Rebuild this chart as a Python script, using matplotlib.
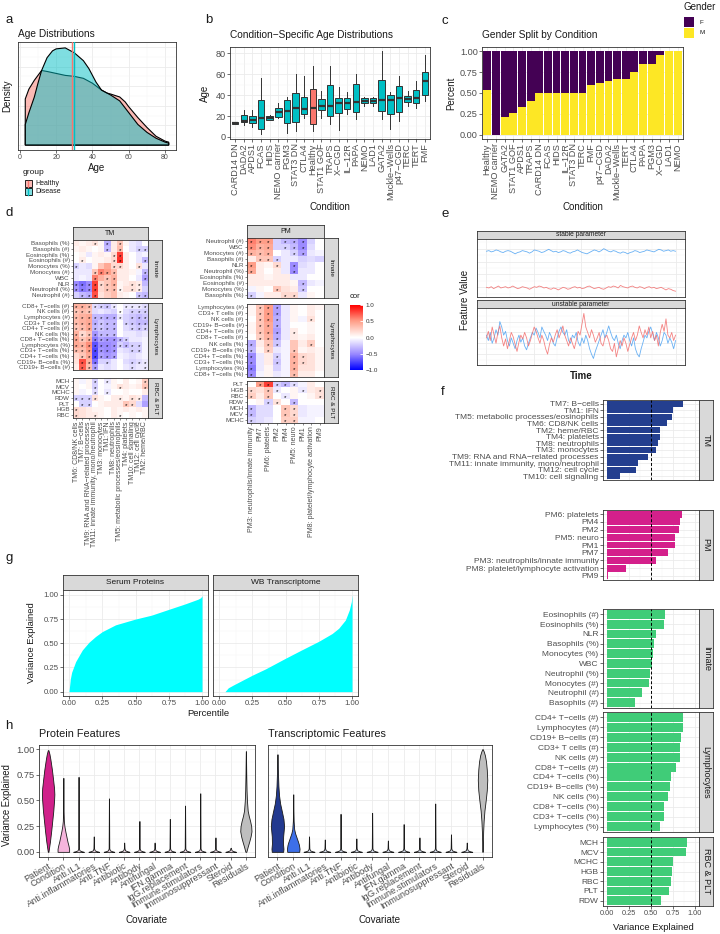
import numpy as np
import matplotlib
matplotlib.use('Agg')
import matplotlib.pyplot as plt
from matplotlib.colors import LinearSegmentedColormap, Normalize, to_rgba
from matplotlib.patches import Rectangle
import matplotlib.colorbar as mcolorbar

plt.rcParams['font.family'] = ['Liberation Sans', 'DejaVu Sans']

# ======================= DATA =======================
# --- a: age densities (relative density)
a_age_h = [3, 5, 8, 12, 15, 20, 25, 30, 35, 40, 45, 48, 50, 55, 58, 60, 65, 70, 75, 80, 82]
a_den_h = [47, 57, 66, 76, 75, 73, 71, 70, 68, 63, 56, 53, 52, 49, 44, 39, 28, 18, 9, 4, 3]
a_age_d = [3, 5, 8, 10, 12, 15, 18, 20, 25, 30, 35, 38, 40, 42, 45, 48, 50, 55, 60, 65, 70, 75, 80, 82]
a_den_d = [21, 33, 49, 63, 76, 89, 96, 98, 99, 94, 86, 78, 71, 64, 56, 53, 51, 45, 33, 21, 13, 7, 3, 2]
a_mean_h = 28.5
a_mean_d = 29.6

# --- b: condition-specific age boxplots
b_cond = ['CARD14 DN', 'DADA2', 'APDS1', 'FCAS', 'HIDS', 'NEMO carrier', 'PGM3', 'STAT3 DN', 'CTLA4',
          'Healthy', 'STAT1 GOF', 'TRAPS', 'X−CGD', 'IL−12R', 'PAPA', 'NEMO', 'LAD1', 'GATA2',
          'Muckle−Wells', 'p47−CGD', 'TERC', 'TERT', 'FMF']
b_lo = [12, 11, 9, 3, 16, 18, 4, 6, 18, 6, 18, 12, 7, 22, 17, 30, 30, 17, 8, 15, 30, 28, 34]
b_q1 = [12.5, 14, 13, 8, 16, 19, 13, 14, 22, 12, 26, 20, 23, 27, 24, 32, 32, 25, 22, 24, 33, 32, 40]
b_med = [13, 15, 16, 18, 18, 24, 25, 28, 27, 28, 30, 30, 32, 32, 33, 34, 34, 35, 35, 37, 36, 37, 53]
b_q3 = [14, 21, 20, 35, 20, 28, 35, 42, 38, 46, 36, 50, 37, 37, 51, 37, 37, 54, 40, 49, 39, 45, 62]
b_hi = [14, 26, 26, 56, 21, 32, 38, 60, 58, 68, 44, 68, 48, 43, 60, 38, 38, 82, 43, 58, 44, 53, 78]

# --- c: gender split
c_cond = ['Healthy', 'NEMO carrier', 'GATA2', 'STAT1 GOF', 'APDS1', 'TRAPS', 'CARD14 DN', 'FCAS', 'HIDS',
          'IL−12R', 'STAT3 DN', 'TERC', 'FMF', 'p47−CGD', 'DADA2', 'Muckle−Wells', 'TERT', 'CTLA4',
          'PAPA', 'PGM3', 'X−CGD', 'LAD1', 'NEMO']
c_male = [0.53, 0.0, 0.21, 0.26, 0.33, 0.40, 0.50, 0.50, 0.50, 0.50, 0.50, 0.50, 0.60, 0.62, 0.64,
          0.67, 0.67, 0.75, 0.85, 0.85, 0.96, 1.0, 1.0]

# --- d: correlation heatmaps
d_tm_cols = ['TM6: CD8/NK cells', 'TM7: B−cells', 'TM9: RNA and RNA−related processes',
             'TM11: innate immunity, mono/neutrophil', 'TM3: monocytes', 'TM1: IFN', 'TM8: neutrophils',
             'TM5: metabolic processes/eosinophils', 'TM4: platelets', 'TM10: cell signaling',
             'TM12: cell cycle', 'TM2: heme/RBC']
d_pm_cols = ['PM3: neutrophils/innate immunity', 'PM7', 'PM6: platelets', 'PM2', 'PM4', 'PM5: neuro',
             'PM1', 'PM8: platelet/lymphocyte activation', 'PM9']

d_tm_innate_rows = ['Basophils (%)', 'Basophils (#)', 'Eosinophils (%)', 'Eosinophils (#)', 'Monocytes (%)',
                    'Monocytes (#)', 'WBC', 'NLR', 'Neutrophil (%)', 'Neutrophil (#)']
d_tm_innate_vals = [
    [0.1, 0.05, 0.1, 0.15, 0.05, -0.35, 0.1, 0.3, 0.05, -0.1, -0.15, 0.0],
    [0.05, 0.1, 0.05, 0.0, 0.05, -0.3, 0.1, 0.35, 0.0, -0.1, -0.2, -0.2],
    [0.0, 0.05, -0.1, 0.05, 0.1, 0.05, 0.2, 0.8, 0.1, 0.0, -0.1, -0.05],
    [0.0, 0.1, 0.0, 0.05, 0.05, 0.1, 0.2, 0.85, 0.1, 0.0, -0.1, -0.3],
    [-0.2, -0.1, -0.15, 0.05, 0.3, 0.45, 0.2, 0.2, 0.1, 0.0, 0.15, -0.1],
    [-0.1, -0.1, -0.1, 0.3, 0.6, 0.5, 0.35, 0.1, 0.1, 0.05, -0.05, -0.3],
    [-0.1, -0.05, -0.1, 0.6, 0.4, 0.3, 0.4, 0.1, 0.1, 0.0, -0.1, -0.4],
    [-0.5, -0.6, -0.5, 0.8, 0.2, 0.3, 0.4, 0.05, 0.1, 0.15, 0.1, -0.3],
    [-0.45, -0.55, -0.5, 0.8, 0.2, 0.3, 0.35, 0.05, 0.15, 0.15, 0.1, -0.2],
    [-0.2, -0.3, -0.35, 0.75, 0.15, 0.25, 0.35, 0.1, 0.05, 0.0, -0.25, -0.3]]
d_tm_innate_star = ['000101010000', '000001010011', '000000110000', '010000110001', '100000110010',
                    '000111100001', '000101100001', '111111100110', '111101110110', '011100000011']

d_tm_lymph_rows = ['CD8+ T−cells (#)', 'NK cells (#)', 'Lymphocytes (#)', 'CD3+ T cells (#)', 'CD4+ T−cells (#)',
                   'NK cells (%)', 'CD8+ T−cells (%)', 'Lymphocytes (%)', 'CD3+ T−cells (%)', 'CD4+ T−cells (%)',
                   'CD19+ B−cells (%)', 'CD19+ B−cells (#)']
d_tm_lymph_vals = [
    [0.4, 0.4, 0.35, -0.15, -0.2, -0.25, -0.1, 0.0, -0.1, -0.1, -0.1, -0.15],
    [0.3, 0.35, 0.3, -0.15, -0.1, -0.15, -0.2, 0.0, -0.15, -0.2, -0.2, -0.2],
    [0.35, 0.4, 0.45, -0.3, -0.3, -0.35, -0.35, -0.1, -0.2, -0.25, -0.3, -0.25],
    [0.35, 0.4, 0.45, -0.35, -0.25, -0.3, -0.3, 0.0, -0.2, -0.25, -0.3, -0.3],
    [0.3, 0.35, 0.45, -0.3, -0.25, -0.3, -0.3, 0.0, -0.15, -0.2, -0.25, -0.2],
    [0.4, 0.2, 0.3, -0.45, -0.3, -0.3, -0.3, 0.0, -0.1, -0.1, -0.15, -0.1],
    [0.45, 0.3, 0.4, -0.55, -0.4, -0.45, -0.45, -0.3, -0.2, -0.1, -0.1, -0.05],
    [0.45, 0.4, 0.55, -0.7, -0.5, -0.5, -0.45, -0.2, -0.3, -0.2, -0.2, -0.05],
    [0.35, 0.35, 0.5, -0.75, -0.45, -0.5, -0.45, -0.1, -0.15, -0.2, -0.2, -0.05],
    [0.2, 0.3, 0.45, -0.75, -0.4, -0.45, -0.4, -0.05, -0.1, -0.15, -0.1, -0.05],
    [0.15, 0.75, 0.4, -0.6, -0.2, -0.2, -0.1, 0.0, -0.15, -0.2, -0.15, -0.1],
    [0.1, 0.7, 0.35, -0.4, -0.1, -0.15, -0.1, 0.0, -0.1, -0.15, -0.1, -0.1]]
d_tm_lymph_star = ['111111101111', '111000010111', '111111110111', '111111101111', '111111100111',
                   '111111100000', '111111111000', '111111111110', '111111100110', '011111100000',
                   '011101000111', '011100000101']

d_tm_rbc_rows = ['MCH', 'MCV', 'MCHC', 'RDW', 'PLT', 'HGB', 'RBC']
d_tm_rbc_vals = [
    [0.05, -0.05, 0.05, -0.2, 0.0, -0.1, 0.05, 0.0, 0.1, 0.0, 0.05, 0.25],
    [0.05, 0.0, 0.05, -0.2, 0.0, -0.05, 0.05, 0.15, 0.1, 0.05, 0.1, 0.3],
    [0.05, -0.05, 0.0, -0.15, 0.0, -0.1, 0.0, 0.0, 0.05, 0.0, 0.0, 0.1],
    [-0.2, -0.2, -0.2, 0.15, 0.05, 0.0, 0.1, 0.1, 0.05, 0.15, 0.1, -0.3],
    [0.0, -0.2, -0.2, 0.0, 0.05, 0.1, 0.1, 0.1, 0.3, 0.2, -0.15, -0.4],
    [0.2, 0.15, 0.1, 0.05, 0.05, 0.0, 0.1, 0.05, 0.1, 0.05, 0.1, 0.05],
    [0.2, 0.15, 0.1, 0.1, 0.05, 0.0, 0.1, 0.05, 0.0, 0.05, 0.0, 0.05]]
d_tm_rbc_star = ['000101000001', '000100010001', '000101000000', '111100010110', '011000001100',
                 '100000000000', '100100010000']

d_pm_innate_rows = ['Neutrophil (#)', 'WBC', 'Monocytes (#)', 'Basophils (#)', 'NLR', 'Neutrophil (%)',
                    'Eosinophils (%)', 'Eosinophils (#)', 'Monocytes (%)', 'Basophils (%)']
d_pm_innate_vals = [
    [0.6, 0.5, 0.5, -0.2, -0.3, -0.35, -0.5, -0.2, 0.0],
    [0.55, 0.4, 0.45, -0.2, -0.2, -0.3, -0.5, -0.15, 0.0],
    [0.4, 0.35, 0.4, 0.0, -0.1, -0.2, -0.4, -0.1, -0.05],
    [0.1, 0.3, 0.3, -0.2, -0.1, -0.1, -0.2, -0.15, -0.2],
    [0.5, 0.1, 0.05, 0.2, -0.1, -0.5, -0.15, -0.1, 0.0],
    [0.45, 0.1, 0.0, 0.1, -0.1, -0.5, -0.1, -0.1, 0.0],
    [0.1, 0.1, 0.05, 0.1, 0.1, -0.1, -0.1, 0.0, 0.0],
    [0.1, 0.1, 0.1, 0.1, 0.1, 0.05, -0.3, -0.1, -0.05],
    [-0.05, 0.05, 0.0, 0.3, 0.15, 0.1, -0.25, 0.0, 0.0],
    [-0.2, -0.05, 0.1, 0.1, 0.2, 0.2, -0.1, 0.05, 0.0]]
d_pm_innate_star = ['111011100', '111011100', '111001100', '011100000', '100101000', '100001000',
                    '000000000', '000000100', '000100100', '100011000']

d_pm_lymph_rows = ['Lymphocytes (#)', 'CD3+ T cells (#)', 'NK cells (#)', 'CD19+ B−cells (#)', 'CD4+ T−cells (#)',
                   'CD8+ T−cells (#)', 'NK cells (%)', 'CD19+ B−cells (%)', 'CD4+ T−cells (%)', 'CD3+ T−cells (%)',
                   'Lymphocytes (%)', 'CD8+ T−cells (%)']
d_pm_lymph_vals = [
    [0.05, 0.3, 0.5, -0.4, -0.1, 0.05, 0.0, 0.1, 0.05],
    [0.05, 0.3, 0.5, -0.4, -0.1, 0.05, 0.0, 0.1, 0.0],
    [0.0, 0.3, 0.5, -0.35, -0.1, 0.05, -0.05, 0.15, 0.0],
    [0.05, 0.3, 0.45, -0.35, -0.1, 0.0, 0.0, 0.05, 0.0],
    [0.05, 0.3, 0.45, -0.4, -0.1, 0.1, 0.0, 0.05, 0.0],
    [0.0, 0.25, 0.4, -0.35, -0.1, 0.1, 0.05, 0.1, 0.0],
    [-0.35, 0.1, 0.3, -0.25, -0.05, 0.3, 0.1, 0.25, 0.0],
    [-0.3, 0.05, 0.25, -0.1, -0.05, 0.3, 0.05, 0.1, 0.05],
    [-0.5, -0.1, 0.1, -0.2, -0.05, 0.4, 0.2, 0.15, 0.05],
    [-0.5, -0.1, 0.1, -0.25, -0.05, 0.4, 0.2, 0.15, 0.05],
    [-0.55, -0.1, 0.05, -0.2, -0.05, 0.4, 0.15, 0.15, 0.05],
    [-0.5, -0.05, 0.05, -0.1, -0.05, 0.35, 0.1, 0.1, 0.0]]
d_pm_lymph_star = ['011100000', '011100000', '011100010', '011100000', '011101000', '011100000',
                   '101100010', '101001000', '100101100', '100101100', '100001000', '100001000']

d_pm_rbc_rows = ['PLT', 'HGB', 'RBC', 'RDW', 'MCH', 'MCV', 'MCHC']
d_pm_rbc_vals = [
    [0.0, 0.5, 0.8, -0.2, -0.3, -0.15, -0.05, 0.1, 0.0],
    [0.2, 0.15, 0.3, -0.1, 0.0, 0.05, -0.1, 0.1, 0.15],
    [0.25, 0.1, 0.3, 0.0, -0.1, 0.05, 0.0, 0.05, 0.15],
    [0.0, 0.05, -0.2, 0.15, 0.0, -0.3, 0.0, 0.0, 0.0],
    [-0.3, -0.15, -0.15, 0.0, 0.3, 0.2, -0.1, -0.05, -0.05],
    [-0.3, -0.15, -0.15, 0.0, 0.3, 0.2, -0.1, -0.05, -0.05],
    [-0.2, -0.15, -0.1, 0.0, 0.25, 0.25, -0.05, -0.05, 0.0]]
d_pm_rbc_star = ['011111000', '101100101', '101010001', '001101000', '100011000', '100011000', '100011000']

d_cbar_ticks = [1.0, 0.5, 0.0, -0.5, -1.0]

# --- e: feature time series
e_stable_blue = [0.76, 0.77, 0.75, 0.76, 0.78, 0.77, 0.75, 0.74, 0.76, 0.77, 0.76, 0.74, 0.72, 0.74, 0.75, 0.77,
                 0.76, 0.75, 0.73, 0.75, 0.78, 0.77, 0.76, 0.74, 0.75, 0.77, 0.79, 0.77, 0.75, 0.76, 0.74, 0.75,
                 0.77, 0.76, 0.74, 0.73, 0.75, 0.76, 0.78, 0.76, 0.74, 0.73, 0.72, 0.74, 0.76, 0.78, 0.77, 0.75,
                 0.77, 0.80, 0.78, 0.76, 0.75, 0.77, 0.76, 0.74, 0.73, 0.75, 0.74, 0.72, 0.74, 0.75, 0.77, 0.76,
                 0.74, 0.75, 0.76, 0.78, 0.77, 0.76, 0.75, 0.77, 0.79, 0.78, 0.76, 0.77, 0.78, 0.76, 0.77, 0.76]
e_stable_red = [0.20, 0.19, 0.21, 0.18, 0.20, 0.22, 0.19, 0.20, 0.21, 0.19, 0.20, 0.22, 0.20, 0.18, 0.19, 0.21,
                0.20, 0.19, 0.17, 0.19, 0.21, 0.20, 0.22, 0.21, 0.19, 0.20, 0.18, 0.17, 0.19, 0.18, 0.16, 0.18,
                0.20, 0.19, 0.17, 0.18, 0.20, 0.21, 0.19, 0.20, 0.18, 0.19, 0.21, 0.22, 0.20, 0.18, 0.19, 0.20,
                0.18, 0.17, 0.19, 0.21, 0.20, 0.22, 0.21, 0.19, 0.23, 0.21, 0.20, 0.19, 0.21, 0.22, 0.20, 0.19,
                0.21, 0.20, 0.18, 0.20, 0.21, 0.19, 0.20, 0.18, 0.19, 0.20, 0.18, 0.16, 0.18, 0.17, 0.15, 0.14]
e_unstable_red = [0.50, 0.62, 0.45, 0.70, 0.55, 0.40, 0.60, 0.72, 0.50, 0.35, 0.48, 0.30, 0.45, 0.60, 0.52, 0.38,
                  0.25, 0.42, 0.55, 0.48, 0.60, 0.50, 0.35, 0.45, 0.58, 0.70, 0.62, 0.50, 0.40, 0.55, 0.45, 0.30,
                  0.20, 0.38, 0.50, 0.42, 0.55, 0.65, 0.50, 0.60, 0.72, 0.55, 0.45, 0.35, 0.50, 0.40, 0.30, 0.45,
                  0.62, 0.55, 0.75, 0.95, 0.70, 0.60, 0.50, 0.65, 0.55, 0.42, 0.50, 0.60, 0.40, 0.35, 0.50, 0.55,
                  0.45, 0.30, 0.25, 0.40, 0.15, 0.30, 0.45, 0.35, 0.50, 0.40, 0.25, 0.38, 0.50, 0.60, 0.45, 0.55,
                  0.72, 0.60, 0.50, 0.65, 0.55, 0.70, 0.50, 0.62, 0.45, 0.55, 0.35, 0.60, 0.75, 0.62, 0.85, 0.55,
                  0.50, 0.60, 0.45, 0.55]
e_unstable_blue = [0.55, 0.45, 0.60, 0.40, 0.50, 0.65, 0.55, 0.80, 0.70, 0.55, 0.62, 0.45, 0.35, 0.50, 0.40, 0.30,
                   0.45, 0.55, 0.42, 0.50, 0.35, 0.28, 0.40, 0.50, 0.60, 0.55, 0.68, 0.60, 0.50, 0.70, 0.62, 0.55,
                   0.45, 0.60, 0.52, 0.40, 0.35, 0.50, 0.62, 0.70, 0.60, 0.55, 0.65, 0.45, 0.40, 0.55, 0.50, 0.60,
                   0.42, 0.35, 0.50, 0.40, 0.55, 0.45, 0.30, 0.20, 0.12, 0.25, 0.35, 0.45, 0.55, 0.65, 0.50, 0.60,
                   0.72, 0.60, 0.50, 0.45, 0.55, 0.40, 0.30, 0.45, 0.55, 0.50, 0.60, 0.45, 0.35, 0.50, 0.30, 0.20,
                   0.15, 0.30, 0.42, 0.55, 0.50, 0.62, 0.70, 0.58, 0.45, 0.60, 0.50, 0.35, 0.45, 0.60, 0.55, 0.40,
                   0.50, 0.42, 0.30, 0.45]

# --- f: variance explained bars
f_tm_names = ['TM7: B−cells', 'TM1: IFN', 'TM5: metabolic processes/eosinophils', 'TM6: CD8/NK cells',
              'TM2: heme/RBC', 'TM4: platelets', 'TM8: neutrophils', 'TM3: monocytes',
              'TM9: RNA and RNA−related processes', 'TM11: innate immunity, mono/neutrophil',
              'TM12: cell cycle', 'TM10: cell signaling']
f_tm_vals = [0.865, 0.75, 0.74, 0.68, 0.61, 0.61, 0.585, 0.555, 0.47, 0.355, 0.33, 0.155]
f_pm_names = ['PM6: platelets', 'PM4', 'PM2', 'PM5: neuro', 'PM1', 'PM7', 'PM3: neutrophils/innate immunity',
              'PM8: platelet/lymphocyte activation', 'PM9']
f_pm_vals = [0.855, 0.835, 0.82, 0.77, 0.77, 0.69, 0.56, 0.22, 0.02]
f_innate_names = ['Eosinophils (#)', 'Eosinophils (%)', 'NLR', 'Basophils (%)', 'Monocytes (%)', 'WBC',
                  'Neutrophil (%)', 'Monocytes (#)', 'Neutrophil (#)', 'Basophils (#)']
f_innate_vals = [0.665, 0.65, 0.56, 0.535, 0.52, 0.51, 0.49, 0.475, 0.40, 0.325]
f_lymph_names = ['CD4+ T−cells (#)', 'Lymphocytes (#)', 'CD19+ B−cells (#)', 'CD3+ T cells (#)', 'NK cells (#)',
                 'CD8+ T−cells (#)', 'CD4+ T−cells (%)', 'CD19+ B−cells (%)', 'NK cells (%)', 'CD8+ T−cells (%)',
                 'CD3+ T−cells (%)', 'Lymphocytes (%)']
f_lymph_vals = [0.87, 0.86, 0.845, 0.835, 0.83, 0.79, 0.73, 0.72, 0.70, 0.65, 0.65, 0.61]
f_rbc_names = ['MCH', 'MCV', 'MCHC', 'HGB', 'RBC', 'PLT', 'RDW']
f_rbc_vals = [0.905, 0.90, 0.755, 0.74, 0.73, 0.71, 0.62]
f_threshold = 0.5

# --- g: variance explained by percentile
g_pct_serum = [0.0, 0.01, 0.02, 0.05, 0.1, 0.15, 0.2, 0.25, 0.35, 0.5, 0.62, 0.75, 0.87, 0.97, 0.99, 1.0]
g_var_serum = [0.0, 0.13, 0.2, 0.31, 0.43, 0.51, 0.57, 0.62, 0.69, 0.75, 0.79, 0.85, 0.905, 0.955, 0.97, 0.99]
g_pct_wb = [0.045, 0.07, 0.11, 0.18, 0.25, 0.35, 0.5, 0.62, 0.75, 0.85, 0.9, 0.95, 0.98, 0.995, 1.0]
g_var_wb = [0.0, 0.04, 0.07, 0.12, 0.17, 0.235, 0.345, 0.43, 0.52, 0.6, 0.655, 0.74, 0.845, 0.93, 1.0]

# --- h: violin profiles (value, half-width)
h_covariates = ['Patient', 'Condition', 'Anti.IL1', 'Anti.inflammatories', 'Anti.TNF', 'Antibiotic', 'Antibody',
                'Antifungal', 'IFN.gamma', 'IgG.replacement', 'Immune.stimulators', 'Immunosuppressant',
                'Steroid', 'Residuals']
h_prot_max = [0.99, 0.72, 0.73, 0.15, 0.52, 0.09, 0.30, 0.09, 0.32, 0.45, 0.57, 0.14, 0.04, 0.98]
h_trans_max = [0.95, 0.56, 0.15, 0.12, 0.37, 0.13, 0.38, 0.11, 0.27, 0.14, 0.47, 0.17, 0.09, 1.0]
h_prot_patient_y = [0.0, 0.05, 0.1, 0.2, 0.3, 0.4, 0.5, 0.56, 0.62, 0.7, 0.8, 0.9, 0.95, 0.99]
h_prot_patient_w = [0.02, 0.07, 0.12, 0.2, 0.27, 0.34, 0.39, 0.41, 0.39, 0.33, 0.25, 0.15, 0.09, 0.02]
h_prot_cond_y = [0.0, 0.03, 0.06, 0.1, 0.15, 0.2, 0.25, 0.3, 0.4, 0.72]
h_prot_cond_w = [0.38, 0.38, 0.34, 0.27, 0.2, 0.13, 0.07, 0.035, 0.015, 0.004]
h_prot_resid_y = [0.0, 0.05, 0.1, 0.15, 0.2, 0.25, 0.3, 0.35, 0.4, 0.5, 0.6, 0.75, 0.9, 0.98]
h_prot_resid_w = [0.03, 0.12, 0.22, 0.31, 0.37, 0.35, 0.28, 0.19, 0.12, 0.07, 0.045, 0.025, 0.012, 0.004]
h_tr_patient_y = [0.0, 0.03, 0.08, 0.15, 0.25, 0.32, 0.4, 0.47, 0.55, 0.64, 0.75, 0.85, 0.95]
h_tr_patient_w = [0.36, 0.38, 0.35, 0.36, 0.42, 0.38, 0.27, 0.17, 0.1, 0.06, 0.035, 0.018, 0.004]
h_tr_cond_y = [0.0, 0.03, 0.07, 0.1, 0.14, 0.18, 0.22, 0.3, 0.4, 0.56]
h_tr_cond_w = [0.38, 0.4, 0.36, 0.3, 0.21, 0.12, 0.06, 0.025, 0.012, 0.004]
h_tr_resid_y = [0.0, 0.1, 0.2, 0.3, 0.4, 0.5, 0.6, 0.7, 0.8, 0.88, 0.94, 0.98, 1.0]
h_tr_resid_w = [0.01, 0.025, 0.04, 0.07, 0.12, 0.2, 0.27, 0.3, 0.27, 0.22, 0.15, 0.07, 0.01]
h_thin_y = [0.0, 0.006, 0.015, 0.035]
h_thin_w = [0.35, 0.2, 0.06, 0.02]

# ======================= FIGURE =======================
W, H = 720, 934
fig = plt.figure(figsize=(W / 100, H / 100), dpi=100, facecolor='white')
ov = fig.add_axes([0, 0, 1, 1])
ov.set_xlim(0, W); ov.set_ylim(H, 0); ov.axis('off'); ov.set_zorder(20)

BORDER = '#333333'; GRID = '#EBEBEB'; GRID2 = '#F4F4F4'; TICK = '#4D4D4D'; TXT = '#1A1A1A'; STRIPC = '#D9D9D9'


def axpx(x0, y0, x1, y1):
    return fig.add_axes([x0 / W, 1 - y1 / H, (x1 - x0) / W, (y1 - y0) / H])


def T(x, y, s, **kw):
    kw.setdefault('ha', 'left'); kw.setdefault('va', 'center'); kw.setdefault('color', TXT)
    return ov.text(x, y, s, **kw)


def bw(ax, fs=6.5):
    ax.set_facecolor('white')
    for s in ax.spines.values():
        s.set_color(BORDER); s.set_linewidth(0.6)
    ax.grid(True, which='major', color=GRID, lw=0.6)
    ax.grid(True, which='minor', color=GRID2, lw=0.35)
    ax.set_axisbelow(True)
    ax.tick_params(which='major', length=2, width=0.5, color=BORDER, labelcolor=TICK, pad=1, labelsize=fs)
    ax.tick_params(which='minor', length=0)


def strip(x0, y0, x1, y1, text, rot=0, fs=5):
    a = axpx(x0, y0, x1, y1)
    a.set_facecolor(STRIPC)
    for s in a.spines.values():
        s.set_color(BORDER); s.set_linewidth(0.6)
    a.set_xticks([]); a.set_yticks([])
    a.text(0.5, 0.5, text, transform=a.transAxes, ha='center', va='center', rotation=rot, fontsize=fs, color=TXT)
    return a


# panel letters
for lab, (lx, ly) in zip('abcdefgh', [(5, 20), (205, 20), (442, 21), (5, 213), (441, 214), (441, 392), (5, 558), (5, 726)]):
    T(lx, ly, lab, fontsize=9.5)

# ---------------- a ----------------
ax = axpx(18, 42, 176, 150)
bw(ax, fs=5)
ax.fill([a_age_h[0]] + a_age_h + [a_age_h[-1]], [0] + a_den_h + [0], facecolor=to_rgba('#F8766D', 0.5),
        edgecolor='black', lw=0.8, zorder=2)
ax.fill([a_age_d[0]] + a_age_d + [a_age_d[-1]], [0] + a_den_d + [0], facecolor=to_rgba('#00BFC4', 0.5),
        edgecolor='black', lw=0.8, zorder=3)
ax.axvline(a_mean_h, color='#F8766D', lw=1, zorder=4)
ax.axvline(a_mean_d, color='#00BFC4', lw=1, zorder=4)
ax.set_xlim(-1, 86); ax.set_ylim(-5, 105)
ax.set_xticks([0, 20, 40, 60, 80]); ax.set_xticks([10, 30, 50, 70], minor=True)
ax.set_yticks([0, 20, 40, 60, 80, 100]); ax.set_yticks([10, 30, 50, 70, 90], minor=True)
ax.set_yticklabels([]); ax.tick_params(axis='y', length=0)
T(18, 34, 'Age Distributions', fontsize=7.3)
T(97, 168, 'Age', fontsize=7, ha='center')
T(7, 96, 'Density', fontsize=7, ha='center', rotation=90)
T(23, 173, 'group', fontsize=6)
for yk, fc, lc, nm in [(180, '#FBBAB6', '#F8766D', 'Healthy'), (188, '#7FDFE1', '#00BFC4', 'Disease')]:
    ov.add_patch(Rectangle((25, yk), 6.5, 7, facecolor=fc, edgecolor='black', lw=0.6))
    ov.plot([28.25, 28.25], [yk + 0.5, yk + 6.5], color=lc, lw=1)
    T(35, yk + 3.5, nm, fontsize=5)

# ---------------- b ----------------
ax = axpx(230, 47, 430, 139)
bw(ax, fs=6.6)
stats = [dict(med=m, q1=q1, q3=q3, whislo=lo, whishi=hi, fliers=[])
         for m, q1, q3, lo, hi in zip(b_med, b_q1, b_q3, b_lo, b_hi)]
bp = ax.bxp(stats, positions=range(len(b_cond)), widths=0.75, patch_artist=True, showcaps=False,
            showfliers=False, boxprops=dict(edgecolor=BORDER, lw=0.7),
            medianprops=dict(color=BORDER, lw=1.6), whiskerprops=dict(color=BORDER, lw=0.7))
for patch, cnd in zip(bp['boxes'], b_cond):
    patch.set_facecolor('#F8766D' if cnd == 'Healthy' else '#00BFC4')
ax.set_xlim(-0.6, len(b_cond) - 0.4); ax.set_ylim(-2, 86)
ax.set_xticks(range(len(b_cond))); ax.set_xticklabels(b_cond, rotation=90)
ax.set_yticks([0, 20, 40, 60, 80]); ax.set_yticks([10, 30, 50, 70], minor=True)
T(230, 35, 'Condition−Specific Age Distributions', fontsize=7.3)
T(330, 207, 'Condition', fontsize=7, ha='center')
T(205, 93, 'Age', fontsize=7, ha='center', rotation=90)

# ---------------- c ----------------
ax = axpx(482, 47, 683, 139)
bw(ax, fs=6.6)
xc = np.arange(len(c_cond))
ax.bar(xc, c_male, width=0.92, color='#FDE725', zorder=2)
ax.bar(xc, [1 - m for m in c_male], bottom=c_male, width=0.92, color='#440154', zorder=2)
ax.set_xlim(-0.6, len(c_cond) - 0.4); ax.set_ylim(-0.05, 1.05)
ax.set_xticks(xc); ax.set_xticklabels(c_cond, rotation=90)
ax.set_yticks([0, 0.25, 0.5, 0.75, 1.0]); ax.set_yticklabels(['0.00', '0.25', '0.50', '0.75', '1.00'])
T(482, 35, 'Gender Split by Condition', fontsize=7.3)
T(583, 207, 'Condition', fontsize=7, ha='center')
T(451, 93, 'Percent', fontsize=7, ha='center', rotation=90)
T(683, 7, 'Gender', fontsize=7)
ov.add_patch(Rectangle((684, 17), 10, 10, facecolor='#440154', edgecolor='none'))
ov.add_patch(Rectangle((684, 28), 10, 10, facecolor='#FDE725', edgecolor='none'))
T(699, 22, 'F', fontsize=4.5)
T(699, 33, 'M', fontsize=4.5)

# ---------------- d ----------------
cmap = LinearSegmentedColormap.from_list('cor', [(0, '#0000FF'), (0.25, '#9C8BFF'), (0.5, '#FFFFFF'),
                                                  (0.75, '#FFA08A'), (1, '#FF0000')])


def heat(x0, y0, x1, y1, vals, stars, rows, cols=None):
    a = axpx(x0, y0, x1, y1)
    V = np.array(vals)
    nr, nc = V.shape
    a.pcolormesh(np.arange(nc + 1), np.arange(nr + 1), V, cmap=cmap, vmin=-1, vmax=1, shading='flat')
    a.set_xlim(0, nc); a.set_ylim(nr, 0)
    for i, srow in enumerate(stars):
        for j, ch in enumerate(srow):
            if ch == '1':
                a.text(j + 0.5, i + 0.78, '*', ha='center', va='center', fontsize=4.5, color='black')
    a.set_yticks(np.arange(nr) + 0.5)
    a.set_yticklabels(rows, fontsize=4.5, color=TICK)
    a.tick_params(length=1.5, width=0.4, pad=0.8, color=BORDER)
    if cols is not None:
        a.set_xticks(np.arange(nc) + 0.5)
        a.set_xticklabels(cols, rotation=90, fontsize=5.0, color=TICK)
    else:
        a.set_xticks([])
    for s in a.spines.values():
        s.set_color(BORDER); s.set_linewidth(0.6)
    return a


tm_blocks = [(240, 298, d_tm_innate_vals, d_tm_innate_star, d_tm_innate_rows, 'Innate'),
             (303, 370, d_tm_lymph_vals, d_tm_lymph_star, d_tm_lymph_rows, 'Lymphocytes'),
             (378, 418, d_tm_rbc_vals, d_tm_rbc_star, d_tm_rbc_rows, 'RBC & PLT')]
strip(73, 227, 148, 240, 'TM', fs=5)
for k, (y0, y1, v, s, r, nm) in enumerate(tm_blocks):
    heat(73, y0, 148, y1, v, s, r, d_tm_cols if k == 2 else None)
    strip(148, y0, 162, y1, nm, rot=-90, fs=4.6)

pm_blocks = [(238, 298, d_pm_innate_vals, d_pm_innate_star, d_pm_innate_rows, 'Innate'),
             (304, 377, d_pm_lymph_vals, d_pm_lymph_star, d_pm_lymph_rows, 'Lymphocytes'),
             (381, 423, d_pm_rbc_vals, d_pm_rbc_star, d_pm_rbc_rows, 'RBC & PLT')]
strip(247, 225, 324, 238, 'PM', fs=5)
for k, (y0, y1, v, s, r, nm) in enumerate(pm_blocks):
    heat(247, y0, 324, y1, v, s, r, d_pm_cols if k == 2 else None)
    strip(324, y0, 338, y1, nm, rot=-90, fs=4.6)

cax = axpx(350, 305, 363, 370)
cb = mcolorbar.ColorbarBase(cax, cmap=cmap, norm=Normalize(-1, 1), orientation='vertical')
cb.outline.set_visible(False)
cb.set_ticks(d_cbar_ticks)
cb.set_ticklabels([f'{t:.1f}'.replace('-', '−') for t in d_cbar_ticks])
cax.tick_params(direction='in', color='white', length=2.5, width=0.6, labelsize=4.5, labelcolor=BORDER, pad=2)
T(350, 297, 'cor', fontsize=5.5)

# ---------------- e ----------------
e_panels = [(231, 239, 297, 'stable parameter', e_stable_blue, e_stable_red, (0.05, 0.95)),
            (300, 308, 365, 'unstable parameter', e_unstable_blue, e_unstable_red, (0.0, 1.05))]
for sy0, ay0, ay1, nm, sb, sr, yl in e_panels:
    strip(477, sy0, 685, ay0, nm, fs=4.8)
    ax = axpx(477, ay0, 685, ay1)
    bw(ax)
    tb = np.arange(len(sb)); tr = np.arange(len(sr))
    ax.plot(tb, sb, color='#4FA3F2', lw=0.6, alpha=0.85)
    ax.plot(tr, sr, color='#F26D6D', lw=0.6, alpha=0.85)
    n = len(sb) - 1
    ax.set_xlim(-0.05 * n, 1.05 * n)
    ax.set_ylim(*yl)
    ax.set_xticks([n * q for q in (0, 0.25, 0.5, 0.75, 1.0)])
    ax.set_xticks([n * q for q in (0.125, 0.375, 0.625, 0.875)], minor=True)
    ax.set_yticks([0.2, 0.4, 0.6, 0.8]); ax.set_yticks([0.1, 0.3, 0.5, 0.7, 0.9], minor=True)
    ax.set_xticklabels([]); ax.set_yticklabels([])
    ax.tick_params(length=0)
T(465, 300, 'Feature Value', fontsize=7, ha='center', rotation=90)
T(581, 376, 'Time', fontsize=7, ha='center', fontweight='bold')

# ---------------- f ----------------
f_sets = [(f_tm_names, f_tm_vals, '#243F8F', 400, 480, 'TM'),
          (f_pm_names, f_pm_vals, '#D4208B', 510, 580, 'PM'),
          (f_innate_names, f_innate_vals, '#40CC78', 609, 708, 'Innate'),
          (f_lymph_names, f_lymph_vals, '#40CC78', 712, 832, 'Lymphocytes'),
          (f_rbc_names, f_rbc_vals, '#40CC78', 837, 906, 'RBC & PLT')]
for k, (nms, vls, col, y0, y1, snm) in enumerate(f_sets):
    ax = axpx(602.7, y0, 699.3, y1)
    bw(ax, fs=5.3)
    n = len(nms)
    ax.barh(range(n), vls, height=0.9, color=col, zorder=2)
    ax.axvline(f_threshold, color='black', lw=0.7, ls=(0, (3, 2)), zorder=3)
    ax.set_ylim(n - 0.45, -0.55); ax.set_xlim(-0.045, 1.05)
    ax.set_yticks(range(n)); ax.set_yticklabels(nms, fontsize=6)
    ax.set_xticks([0, 0.25, 0.5, 0.75, 1.0]); ax.set_xticks([0.125, 0.375, 0.625, 0.875], minor=True)
    if k == len(f_sets) - 1:
        ax.set_xticklabels(['0.00', '0.25', '0.50', '0.75', '1.00'])
    else:
        ax.set_xticklabels([]); ax.tick_params(axis='x', length=0)
    strip(699.3, y0, 713, y1, snm, rot=-90, fs=6.5)
T(653, 927, 'Variance Explained', fontsize=6.8, ha='center')

# ---------------- g ----------------
for k, (x0, x1, nm, px, py) in enumerate([(63, 208, 'Serum Proteins', g_pct_serum, g_var_serum),
                                           (213, 358, 'WB Transcriptome', g_pct_wb, g_var_wb)]):
    strip(x0, 575, x1, 590, nm, fs=6)
    ax = axpx(x0, 590, x1, 696)
    bw(ax, fs=5.6)
    ax.fill_between(px, 0, py, color='#00FFFF', lw=0, zorder=2)
    ax.set_xlim(-0.045, 1.045); ax.set_ylim(-0.045, 1.05)
    ax.set_xticks([0, 0.25, 0.5, 0.75, 1.0]); ax.set_xticks([0.125, 0.375, 0.625, 0.875], minor=True)
    ax.set_xticklabels(['0.00', '0.25', '0.50', '0.75', '1.00'])
    ax.set_yticks([0, 0.25, 0.5, 0.75, 1.0]); ax.set_yticks([0.125, 0.375, 0.625, 0.875], minor=True)
    if k == 0:
        ax.set_yticklabels(['0.00', '0.25', '0.50', '0.75', '1.00'])
    else:
        ax.set_yticklabels([]); ax.tick_params(axis='y', length=0)
T(208, 714, 'Percentile', fontsize=6.8, ha='center')
T(31, 643, 'Variance Explained', fontsize=6.8, ha='center', rotation=90)

# ---------------- h ----------------
prot_fill = ['#D0208A', '#F5B5DC'] + ['#FBE4F1'] * 11 + ['#BEBEBE']
tr_fill = ['#22398F', '#3D6FE8'] + ['#E3EAFB'] * 11 + ['#BEBEBE']
h_panels = [(39, 255, 'Protein Features', h_prot_max, prot_fill,
             [(h_prot_patient_y, h_prot_patient_w), (h_prot_cond_y, h_prot_cond_w)], (h_prot_resid_y, h_prot_resid_w)),
            (268, 492, 'Transcriptomic Features', h_trans_max, tr_fill,
             [(h_tr_patient_y, h_tr_patient_w), (h_tr_cond_y, h_tr_cond_w)], (h_tr_resid_y, h_tr_resid_w))]
for k, (x0, x1, ttl, mx, fills, first2, resid) in enumerate(h_panels):
    ax = axpx(x0, 745, x1, 857)
    bw(ax, fs=6.7)
    n = len(h_covariates)
    for i in range(n):
        if i < 2:
            ys, ws = first2[i]
        elif i == n - 1:
            ys, ws = resid
        else:
            ys = h_thin_y + [mx[i]]
            ws = h_thin_w + [0.004]
        ys = np.array(ys); ws = np.array(ws)
        ax.fill_betweenx(ys, i - ws, i + ws, facecolor=fills[i], edgecolor='#1A1A1A', lw=0.6, zorder=3)
    ax.set_xlim(-0.6, n - 0.4); ax.set_ylim(-0.05, 1.04)
    ax.set_xticks(range(n))
    ax.set_xticklabels(h_covariates, rotation=30, ha='right', va='top', rotation_mode='anchor')
    ax.set_yticks([0, 0.25, 0.5, 0.75, 1.0]); ax.set_yticks([0.125, 0.375, 0.625, 0.875], minor=True)
    if k == 0:
        ax.set_yticklabels(['0.00', '0.25', '0.50', '0.75', '1.00'])
    else:
        ax.set_yticklabels([]); ax.tick_params(axis='y', length=0)
    T(x0, 734, ttl, fontsize=7.8)
    T((x0 + x1) / 2, 920, 'Covariate', fontsize=7.1, ha='center')
T(7, 805, 'Variance Explained', fontsize=6.9, ha='center', rotation=90)

fig.savefig('out.png', dpi=100, facecolor='white')
